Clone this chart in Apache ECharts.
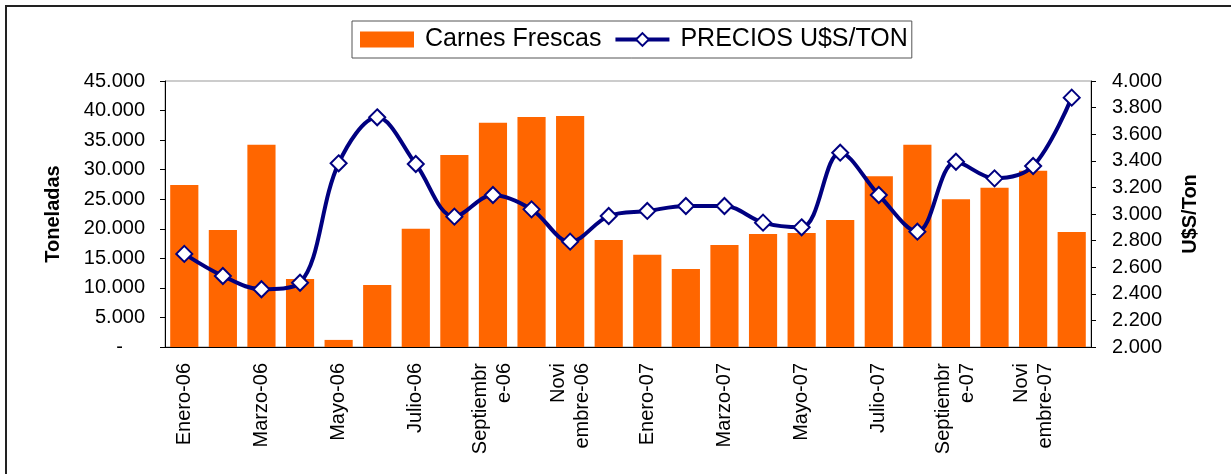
<!DOCTYPE html>
<html>
<head>
<meta charset="utf-8">
<script src="https://cdn.jsdelivr.net/npm/echarts@6/dist/echarts.min.js"></script>
<style>
  html, body { margin: 0; padding: 0; background: #fff; }
  #frame { position: absolute; left: 5px; top: 5px; width: 1240px; height: 480px;
           border-left: 2px solid #222; border-top: 2px solid #222; }
  #chart { position: absolute; left: 0; top: 0; width: 1231px; height: 474px; }
</style>
</head>
<body>
<div id="frame"></div>
<div id="chart"></div>
<script>
// meses
const meses = [
  'Enero-06', 'Febrero-06', 'Marzo-06', 'Abril-06', 'Mayo-06', 'Junio-06',
  'Julio-06', 'Agosto-06', 'Septiembr\ne-06', 'Octubre-06', 'Novi\nembre-06', 'Diciembre-06',
  'Enero-07', 'Febrero-07', 'Marzo-07', 'Abril-07', 'Mayo-07', 'Junio-07',
  'Julio-07', 'Agosto-07', 'Septiembr\ne-07', 'Octubre-07', 'Novi\nembre-07', 'Diciembre-07'
];
// toneladas
const carnesFrescas = [
  27400, 19800, 34200, 11500, 1200, 10500,
  20000, 32500, 37950, 38900, 39100, 18100,
  15600, 13200, 17250, 19100, 19300, 21500,
  28900, 34200, 25000, 26950, 29800, 19450
];
// U$S/Ton
const precios = [
  2700, 2534, 2434, 2483, 3381, 3727,
  3376, 2980, 3143, 3035, 2792, 2985,
  3023, 3060, 3060, 2935, 2900, 3461,
  3143, 2867, 3393, 3268, 3361, 3875
];

function puntos(v) {
  return String(v).replace(/\B(?=(\d{3})+(?!\d))/g, '.');
}

const myChart = echarts.init(document.getElementById('chart'));
const option = {
  animation: false,
  textStyle: { fontFamily: 'Liberation Sans, Arial, sans-serif' },
  legend: {
    top: 21,
    left: 352,
    padding: [6, 4, 6, 8],
    borderColor: '#555',
    borderWidth: 1,
    itemGap: 12,
    itemWidth: 54,
    itemHeight: 16,
    textStyle: { fontSize: 25, color: '#000', padding: [0, 0, 0, 6] },
    data: [
      { name: 'Carnes Frescas', icon: 'rect' },
      {
        name: 'PRECIOS U$S/TON',
        lineStyle: { color: '#000080', width: 4 },
        itemStyle: { color: '#fff', borderColor: '#000080', borderWidth: 2 }
      }
    ]
  },
  grid: {
    left: 165, right: 140, top: 81, bottom: 127,
    show: true, borderColor: '#999', borderWidth: 1
  },
  xAxis: {
    type: 'category',
    data: meses,
    axisLine: { lineStyle: { color: '#000', width: 1 } },
    axisTick: { interval: 0, length: 6, lineStyle: { color: '#000' } },
    axisLabel: {
      interval: 1, rotate: 90, margin: 16,
      fontSize: 20, color: '#000', lineHeight: 24, align: 'right'
    }
  },
  yAxis: [
    {
      type: 'value', min: 0, max: 45000, interval: 5000,
      name: 'Toneladas', nameLocation: 'middle', nameGap: 102, nameRotate: 90,
      nameTextStyle: { fontSize: 20, fontWeight: 'bold', color: '#000' },
      splitLine: { show: false },
      axisLine: { show: true, lineStyle: { color: '#000' } },
      axisTick: { show: true, length: 5, lineStyle: { color: '#000' } },
      axisLabel: {
        fontSize: 20, color: '#000', margin: 20,
        formatter: v => v === 0 ? '{z|-}' : puntos(v),
        rich: { z: { fontSize: 20, color: '#000', padding: [0, 22, 0, 0] } }
      }
    },
    {
      type: 'value', min: 2000, max: 4000, interval: 200,
      name: 'U$S/Ton', nameLocation: 'middle', nameGap: 89, nameRotate: 90,
      nameTextStyle: { fontSize: 20, fontWeight: 'bold', color: '#000' },
      splitLine: { show: false },
      axisLine: { show: true, lineStyle: { color: '#000' } },
      axisTick: { show: true, length: 5, lineStyle: { color: '#000' } },
      axisLabel: { fontSize: 20, color: '#000', margin: 21, formatter: v => puntos(v) }
    }
  ],
  series: [
    {
      name: 'Carnes Frescas',
      type: 'bar',
      yAxisIndex: 0,
      barCategoryGap: '27%',
      itemStyle: { color: '#FF6600' },
      data: carnesFrescas
    },
    {
      name: 'PRECIOS U$S/TON',
      type: 'line',
      yAxisIndex: 1,
      smooth: 0.35,
      symbol: 'diamond',
      symbolSize: 16,
      lineStyle: { color: '#000080', width: 4 },
      itemStyle: { color: '#fff', borderColor: '#000080', borderWidth: 2 },
      data: precios
    }
  ]
};
myChart.setOption(option);
</script>
</body>
</html>
